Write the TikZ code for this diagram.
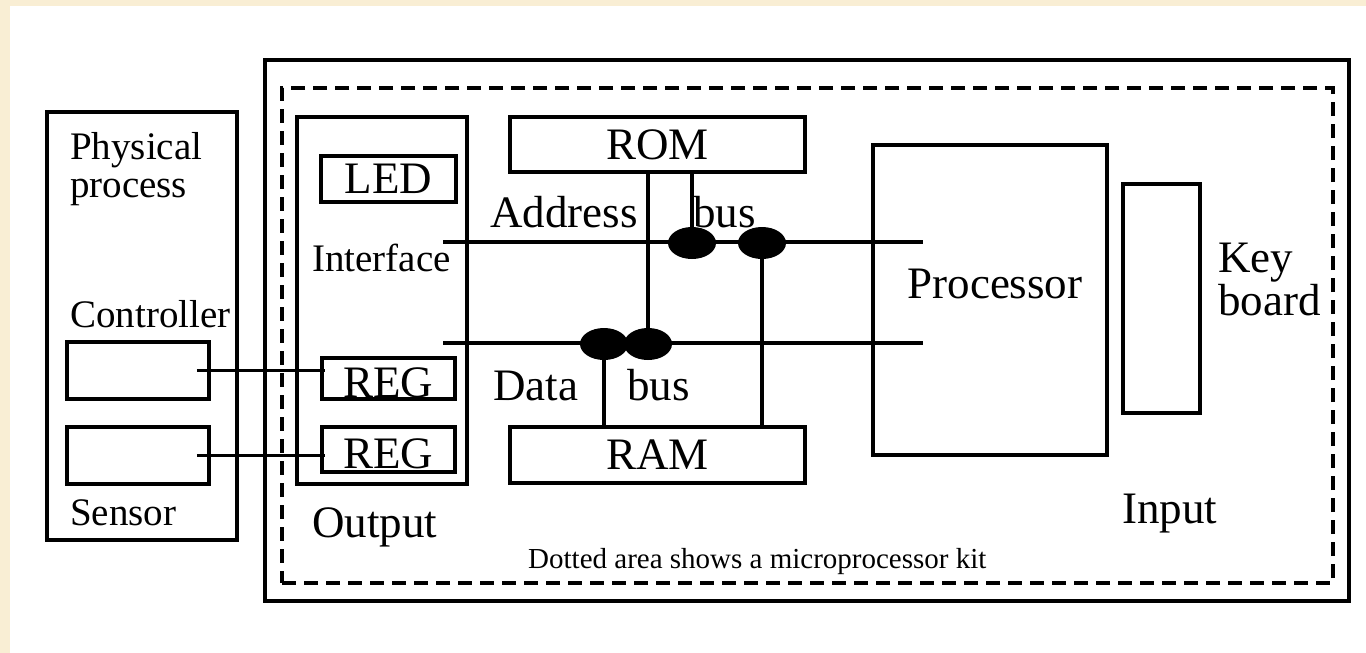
\documentclass[tikz,border=0pt]{standalone}
\usepackage{fontspec}
\setmainfont{Liberation Serif}
\usetikzlibrary{shapes.geometric}
\definecolor{cream}{RGB}{249,238,212}
\tikzset{
  box/.style={draw, line width=3.6pt, rectangle, inner sep=0pt, font=\fontsize{45}{50}\selectfont},
  bigtxt/.style={inner sep=0pt, anchor=base west, font=\fontsize{45}{50}\selectfont},
  smalltxt/.style={inner sep=0pt, anchor=base west, font=\fontsize{39}{44}\selectfont},
  tinytxt/.style={inner sep=0pt, anchor=base west, font=\fontsize{29}{33}\selectfont},
  wire/.style={line width=3.2pt},
  blob/.style={ellipse, fill=black, draw=none, minimum width=48pt, minimum height=32pt, inner sep=0pt},
  kitline/.style={line width=3.2pt, dash pattern=on 14pt off 8pt}
}
\begin{document}
\begin{tikzpicture}[x=1pt, y=-1pt]
\useasboundingbox (0,0) rectangle (1366,653);
\fill[cream] (0,0) rectangle (1366,653);
\fill[white] (10,6) rectangle (1366,653);

% outer frame and dashed kit area
\node[box, line width=4.2pt, minimum width=1084pt, minimum height=541pt] (outer) at (807,330.5) {};
\node[kitline, draw, rectangle, minimum width=1051pt, minimum height=495pt, inner sep=0pt] (kit) at (807.5,335.5) {};

% physical process
\node[box, minimum width=190pt, minimum height=428pt] (phys) at (142,326) {};
\node[smalltxt] (physt1) at (70,159) {Physical};
\node[smalltxt] (physt2) at (70,197) {process};
\node[smalltxt] (ctrlt) at (70,327) {Controller};
\node[box, minimum width=142pt, minimum height=57pt] (ctrl) at (138,370.5) {};
\node[box, minimum width=142pt, minimum height=57pt] (sens) at (138,455.5) {};
\node[smalltxt] (senst) at (70,525) {Sensor};

% output interface
\node[box, minimum width=170pt, minimum height=367pt] (iface) at (382,300.5) {};
\node[box, minimum width=135pt, minimum height=46pt] (led) at (388.5,179) {LED};
\node[smalltxt] (ifacet) at (312,271) {Interface};
\node[box, minimum width=133pt, minimum height=41pt] (reg1) at (388.5,378.5) {};
\node[bigtxt, anchor=base] (reg1t) at (388,397) {REG};
\node[box, minimum width=133pt, minimum height=45pt] (reg2) at (388.5,449.5) {};
\node[bigtxt, anchor=base] (reg2t) at (388,468) {REG};
\node[bigtxt] (outt) at (312,537) {Output};

% memories
\node[box, minimum width=295pt, minimum height=55pt] (rom) at (657.5,144.5) {ROM};
\node[box, minimum width=295pt, minimum height=56pt] (ram) at (657.5,455) {RAM};

% processor and keyboard
\node[box, minimum width=234pt, minimum height=310pt] (proc) at (990,300) {};
\node[bigtxt, anchor=base] (proct) at (995,298) {Processor};
\node[box, minimum width=77pt, minimum height=229pt] (kbd) at (1161.5,298.5) {};
\node[bigtxt] (keyt1) at (1218,272) {Key};
\node[bigtxt] (keyt2) at (1218,315) {board};
\node[bigtxt] (inpt) at (1122,523) {Input};

% buses
\coordinate (abL) at (443,242);
\coordinate (abR) at (923,242);
\coordinate (dbL) at (443,343);
\coordinate (dbR) at (923,343);
\draw[wire] (abL) -- (abR);
\draw[wire] (dbL) -- (dbR);
\node[bigtxt] (addrt) at (490,227) {Address};
\node[bigtxt] (abust) at (693,227) {bus};
\node[bigtxt] (datat) at (493,400) {Data};
\node[bigtxt] (dbust) at (627,400) {bus};

% junction blobs
\node[blob] (b1) at (692,243) {};
\node[blob] (b2) at (762,243) {};
\node[blob] (b3) at (604,344) {};
\node[blob] (b4) at (648,344) {};

% vertical connections
\draw[wire] (rom.south -| b1) -- (b1);
\draw[wire] (rom.south -| b4) -- (b4);
\draw[wire] (b2) -- (ram.north -| b2);
\draw[wire] (b3) -- (ram.north -| b3);

% controller / sensor links
\draw[wire] ([xshift=-14pt]ctrl.east) -- ([xshift=5pt]ctrl.east -| reg1.west);
\draw[wire] ([xshift=-14pt]sens.east) -- ([xshift=5pt]sens.east -| reg2.west);

\node[tinytxt] (kitt) at (528,568) {Dotted area shows a microprocessor kit};
\end{tikzpicture}
\end{document}
